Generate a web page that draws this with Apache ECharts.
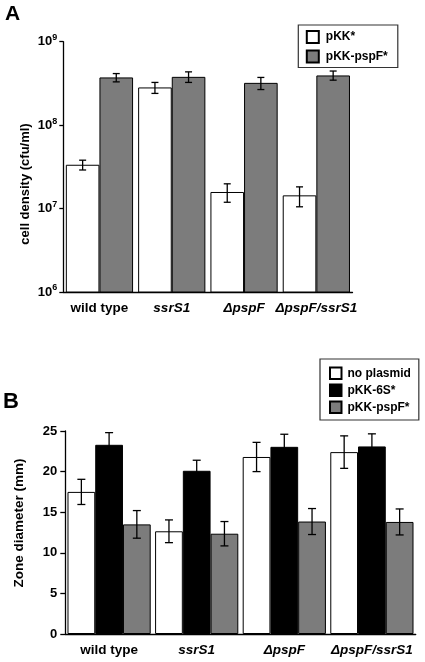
<!DOCTYPE html>
<html><head><meta charset="utf-8">
<script src="https://cdn.jsdelivr.net/npm/echarts@6/dist/echarts.min.js"></script>
<style>html,body{margin:0;padding:0;background:#fff}#c{width:425px;height:662px}</style>
</head><body><div id="c"></div>
<script>
// ---- data ----
const categories = ['wild type', 'ssrS1', 'ΔpspF', 'ΔpspF/ssrS1'];
// Panel A: cell density (cfu/ml), log scale
const aTicks = [1e6, 1e7, 1e8, 1e9];
const aPKK = [3.35e7, 2.83e8, 1.58e7, 1.44e7];
const aPKKLow = [2.9e7, 2.4e8, 1.19e7, 1.05e7];
const aPKKHigh = [3.8e7, 3.25e8, 1.98e7, 1.82e7];
const aPspF = [3.73e8, 3.79e8, 3.21e8, 3.94e8];
const aPspFLow = [3.3e8, 3.25e8, 2.67e8, 3.46e8];
const aPspFHigh = [4.15e8, 4.35e8, 3.73e8, 4.45e8];
// Panel B: zone diameter (mm)
const bNoPlasmid = [17.5, 12.65, 21.8, 22.4];
const bNoPlasmidErr = [1.55, 1.4, 1.8, 2.0];
const bPKK6S = [23.3, 20.1, 23.05, 23.1];
const bPKK6SErr = [1.5, 1.3, 1.55, 1.55];
const bPspF = [13.5, 12.35, 13.85, 13.8];
const bPspFErr = [1.7, 1.5, 1.6, 1.6];
const bTicks = [0, 5, 10, 15, 20, 25];

const FONT = "'Liberation Sans', Arial, Helvetica, sans-serif";
const GREY = '#7c7c7c';
const GAP_A = 0.07, GAP_B = 0.05;

function catLabel(v) {
  if (v === 'wild type') return '{n|' + v + '}';
  return '{i|' + v + '}';
}
const xRich = {
  n: {fontFamily: FONT, fontWeight: 'bold', fontSize: 13.5, color: '#000'},
  i: {fontFamily: FONT, fontWeight: 'bold', fontStyle: 'italic', fontSize: 13.5, color: '#000'}
};

function errRender(nBars, idx, gap, capHalf) {
  return function (params, api) {
    const c = api.value(0);
    const lo = api.value(1), hi = api.value(2);
    const pLo = api.coord([c, lo]);
    const pHi = api.coord([c, hi]);
    const band = api.size([1, 1])[0];
    const bw = band * (1 - gap) / nBars;
    const x = pLo[0] - band * (1 - gap) / 2 + bw * (idx + 0.5);
    const st = {stroke: '#000', lineWidth: 1.3};
    return {
      type: 'group',
      children: [
        {type: 'line', shape: {x1: x, y1: pLo[1], x2: x, y2: pHi[1]}, style: st},
        {type: 'line', shape: {x1: x - capHalf, y1: pLo[1], x2: x + capHalf, y2: pLo[1]}, style: st},
        {type: 'line', shape: {x1: x - capHalf, y1: pHi[1], x2: x + capHalf, y2: pHi[1]}, style: st}
      ]
    };
  };
}

const errA1 = categories.map((c, i) => [i, aPKKLow[i], aPKKHigh[i]]);
const errA2 = categories.map((c, i) => [i, aPspFLow[i], aPspFHigh[i]]);
const errB1 = categories.map((c, i) => [i, bNoPlasmid[i] - bNoPlasmidErr[i], bNoPlasmid[i] + bNoPlasmidErr[i]]);
const errB2 = categories.map((c, i) => [i, bPKK6S[i] - bPKK6SErr[i], bPKK6S[i] + bPKK6SErr[i]]);
const errB3 = categories.map((c, i) => [i, bPspF[i] - bPspFErr[i], bPspF[i] + bPspFErr[i]]);

const chart = echarts.init(document.getElementById('c'), null, {renderer: 'canvas'});
const axisLine = {show: true, lineStyle: {color: '#000', width: 1.3}};
const barStyle = (col) => ({color: col, borderColor: '#000', borderWidth: 1});

chart.setOption({
  animation: false,
  backgroundColor: '#fff',
  grid: [
    {left: 63.3, width: 289.2, top: 41.7, height: 250.3},
    {left: 65.3, width: 350.4, top: 431, height: 203}
  ],
  xAxis: [
    {type: 'category', gridIndex: 0, data: categories, axisLine: axisLine, axisTick: {show: false},
     axisLabel: {interval: 0, formatter: catLabel, rich: xRich, margin: 9}},
    {type: 'category', gridIndex: 1, data: categories, axisLine: axisLine, axisTick: {show: false},
     axisLabel: {interval: 0, formatter: catLabel, rich: xRich, margin: 9}}
  ],
  yAxis: [
    {type: 'log', logBase: 10, gridIndex: 0, min: aTicks[0], max: aTicks[aTicks.length - 1],
     axisLine: axisLine, axisTick: {show: true, length: 4, lineStyle: {color: '#000', width: 1.3}},
     minorTick: {show: false}, splitLine: {show: false},
     axisLabel: {
       margin: 6,
       formatter: function (v) { return '{b|10}{s|' + Math.round(Math.log10(v)) + '}'; },
       rich: {
         b: {fontFamily: FONT, fontWeight: 'bold', fontSize: 13, color: '#000'},
         s: {fontFamily: FONT, fontWeight: 'bold', fontSize: 9, color: '#000', padding: [0, 0, 8, 0]}
       }
     }},
    {type: 'value', gridIndex: 1, min: 0, max: 25, interval: 5,
     axisLine: axisLine, axisTick: {show: true, length: 5, lineStyle: {color: '#000', width: 1.3}},
     splitLine: {show: false},
     axisLabel: {margin: 8, fontFamily: FONT, fontWeight: 'bold', fontSize: 13, color: '#000'}}
  ],
  legend: [
    {orient: 'vertical', left: 298.3, top: 25, padding: [5, 10, 4, 7.5], itemGap: 5.5, icon: 'rect',
     itemWidth: 12, itemHeight: 12, borderColor: '#333', borderWidth: 1.2,
     textStyle: {fontFamily: FONT, fontWeight: 'bold', fontSize: 12, color: '#000', padding: [0, 0, 0, 2]},
     data: ['pKK*', 'pKK-pspF*'], selectedMode: false},
    {orient: 'vertical', left: 320, top: 359, padding: [7.5, 6, 6, 9], itemGap: 3.5, icon: 'rect',
     itemWidth: 11.5, itemHeight: 11.5, borderColor: '#333', borderWidth: 1.2,
     textStyle: {fontFamily: FONT, fontWeight: 'bold', fontSize: 12, color: '#000', padding: [0, 0, 0, 1]},
     data: ['no plasmid', 'pKK-6S*', 'pKK-pspF* '], selectedMode: false}
  ],
  graphic: [
    {type: 'text', left: 5, top: 4, style: {text: 'A', font: "bold 21px " + FONT, fill: '#000'}},
    {type: 'text', left: 3, top: 391, style: {text: 'B', font: "bold 22px " + FONT, fill: '#000'}},
    {type: 'text', x: 25, y: 184, rotation: Math.PI / 2,
     style: {text: 'cell density (cfu/ml)', font: "bold 13px " + FONT, fill: '#000', align: 'center', verticalAlign: 'middle'}},
    {type: 'text', x: 19, y: 523, rotation: Math.PI / 2,
     style: {text: 'Zone diameter (mm)', font: "bold 13.5px " + FONT, fill: '#000', align: 'center', verticalAlign: 'middle'}}
  ],
  series: [
    {name: 'pKK*', type: 'bar', xAxisIndex: 0, yAxisIndex: 0, data: aPKK, barGap: 0, barCategoryGap: (GAP_A * 100) + '%',
     itemStyle: barStyle('#fff'), clip: true},
    {name: 'pKK-pspF*', type: 'bar', xAxisIndex: 0, yAxisIndex: 0, data: aPspF, barGap: 0, barCategoryGap: (GAP_A * 100) + '%',
     itemStyle: barStyle(GREY), clip: true},
    {type: 'custom', xAxisIndex: 0, yAxisIndex: 0, data: errA1, renderItem: errRender(2, 0, GAP_A, 3.5), z: 5},
    {type: 'custom', xAxisIndex: 0, yAxisIndex: 0, data: errA2, renderItem: errRender(2, 1, GAP_A, 3.5), z: 5},
    {name: 'no plasmid', type: 'bar', xAxisIndex: 1, yAxisIndex: 1, data: bNoPlasmid, barGap: 0, barCategoryGap: (GAP_B * 100) + '%',
     itemStyle: barStyle('#fff')},
    {name: 'pKK-6S*', type: 'bar', xAxisIndex: 1, yAxisIndex: 1, data: bPKK6S, barGap: 0, barCategoryGap: (GAP_B * 100) + '%',
     itemStyle: barStyle('#000')},
    {name: 'pKK-pspF* ', type: 'bar', xAxisIndex: 1, yAxisIndex: 1, data: bPspF, barGap: 0, barCategoryGap: (GAP_B * 100) + '%',
     itemStyle: barStyle(GREY)},
    {type: 'custom', xAxisIndex: 1, yAxisIndex: 1, data: errB1, renderItem: errRender(3, 0, GAP_B, 4), z: 5},
    {type: 'custom', xAxisIndex: 1, yAxisIndex: 1, data: errB2, renderItem: errRender(3, 1, GAP_B, 4), z: 5},
    {type: 'custom', xAxisIndex: 1, yAxisIndex: 1, data: errB3, renderItem: errRender(3, 2, GAP_B, 4), z: 5}
  ]
});
</script></body></html>
